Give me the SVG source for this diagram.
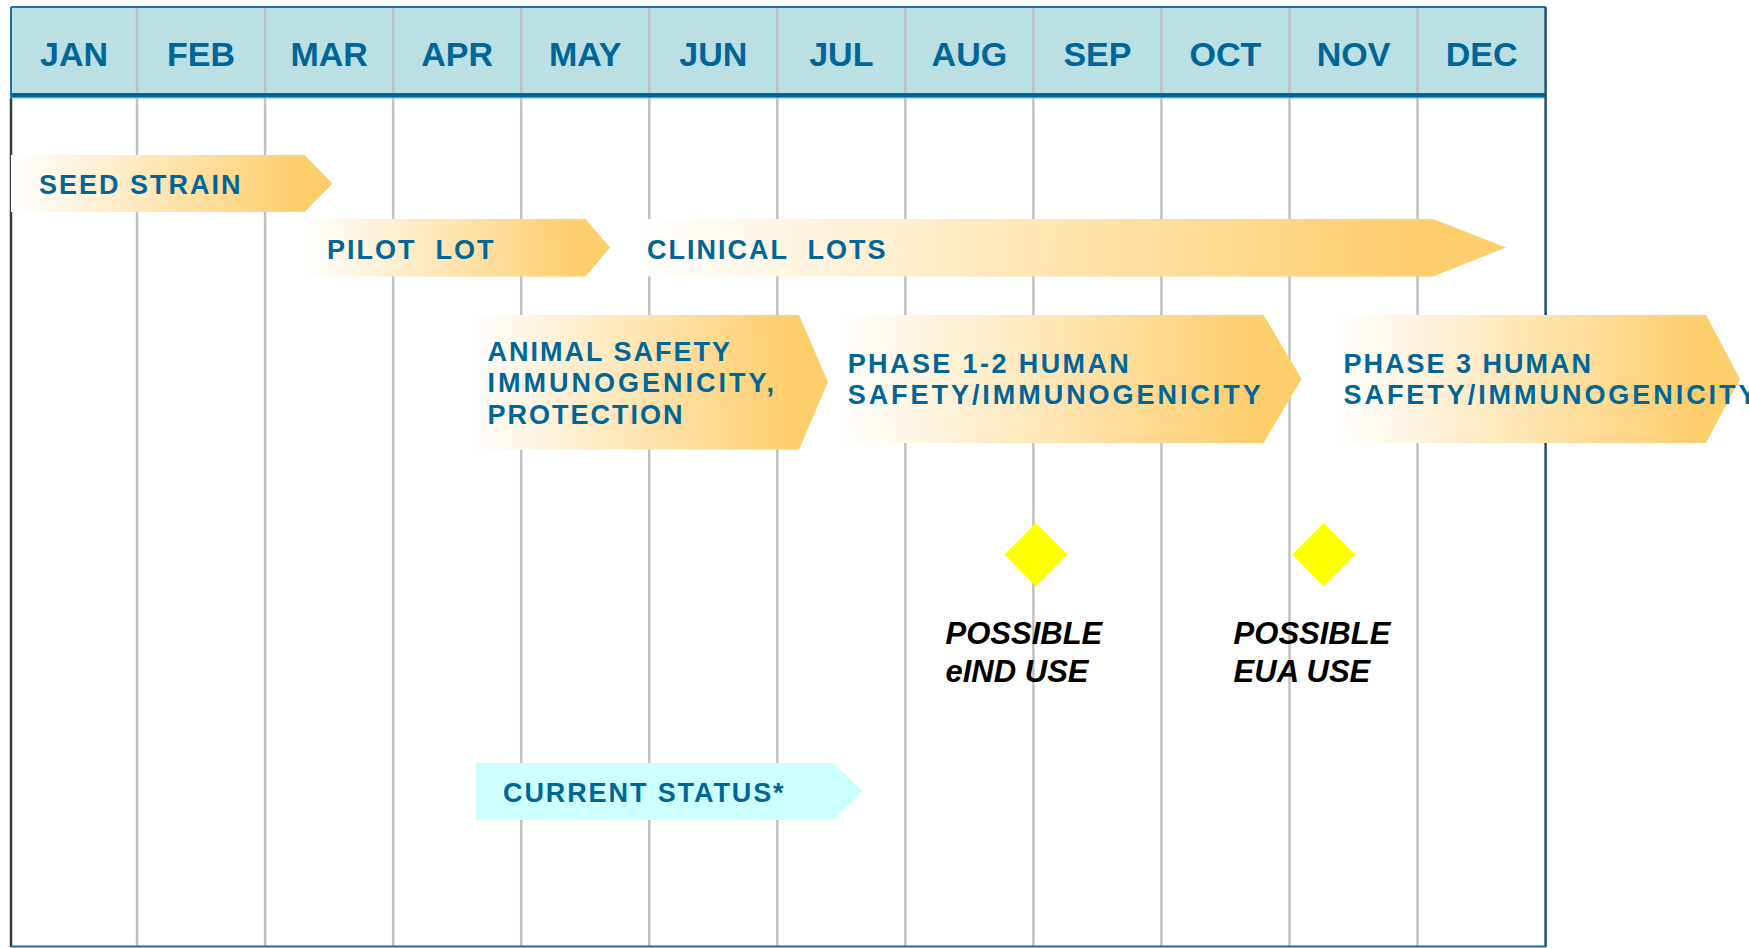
<svg xmlns="http://www.w3.org/2000/svg" width="1749" height="948" viewBox="0 0 1749 948">
<style>
.month{font-family:"Liberation Sans",Arial,sans-serif;font-weight:bold;font-size:34px;fill:#006699;text-anchor:middle}
.lbl{font-family:"Liberation Sans",Arial,sans-serif;font-weight:bold;font-size:27px;fill:#006699;letter-spacing:2px}
.ms{font-family:"Liberation Sans",Arial,sans-serif;font-weight:bold;font-style:italic;font-size:31px;fill:#000000}
.grid{stroke:#C0C0C0;stroke-width:2.5}
.bar{fill:url(#orange)}
.dia{fill:#FFFF00}
</style>
<defs>
<linearGradient id="orange" x1="0" y1="0" x2="1" y2="0">
<stop offset="0" stop-color="#FFFFFF"/>
<stop offset="0.9" stop-color="#FECD6C"/>
<stop offset="1" stop-color="#FECD6C"/>
</linearGradient>
</defs>
<rect x="0" y="0" width="1749" height="948" fill="#FFFFFF"/>
<g id="frame">
<rect x="11" y="7" width="1534.6" height="92" fill="#BAE0E3"/>
<g class="grid">
<line x1="137.05" y1="7" x2="137.05" y2="947"/>
<line x1="265.1" y1="7" x2="265.1" y2="947"/>
<line x1="393.15" y1="7" x2="393.15" y2="947"/>
<line x1="521.2" y1="7" x2="521.2" y2="947"/>
<line x1="649.25" y1="7" x2="649.25" y2="947"/>
<line x1="777.3" y1="7" x2="777.3" y2="947"/>
<line x1="905.35" y1="7" x2="905.35" y2="947"/>
<line x1="1033.4" y1="7" x2="1033.4" y2="947"/>
<line x1="1161.45" y1="7" x2="1161.45" y2="947"/>
<line x1="1289.5" y1="7" x2="1289.5" y2="947"/>
<line x1="1417.55" y1="7" x2="1417.55" y2="947"/>
</g>
<line x1="11" y1="7" x2="1545.6" y2="7" stroke="#1A70A8" stroke-width="2"/>
<line x1="11" y1="95.3" x2="1545.6" y2="95.3" stroke="#006699" stroke-width="4.5"/>
<line x1="11" y1="7" x2="11" y2="99" stroke="#1A70A8" stroke-width="2"/>
<line x1="11" y1="99" x2="11" y2="947" stroke="#3A3A3A" stroke-width="2.5"/>
<line x1="1545.6" y1="7" x2="1545.6" y2="947" stroke="#1F4F70" stroke-width="2.5"/>
<line x1="11" y1="946.5" x2="1545.6" y2="946.5" stroke="#1A6A9A" stroke-width="2"/>
<text class="month" x="74" y="66">JAN</text>
<text class="month" x="201.1" y="66">FEB</text>
<text class="month" x="329.1" y="66">MAR</text>
<text class="month" x="457.2" y="66">APR</text>
<text class="month" x="585.2" y="66">MAY</text>
<text class="month" x="713.3" y="66">JUN</text>
<text class="month" x="841.3" y="66">JUL</text>
<text class="month" x="969.4" y="66">AUG</text>
<text class="month" x="1097.4" y="66">SEP</text>
<text class="month" x="1225.5" y="66">OCT</text>
<text class="month" x="1353.5" y="66">NOV</text>
<text class="month" x="1481.6" y="66">DEC</text>
</g>
<g id="seed-strain">
<polygon class="bar" points="11,155 304.5,155 332.5,183.5 304.5,212 11,212"/>
<text class="lbl" x="39" y="194">SEED STRAIN</text>
</g>
<g id="pilot-lot">
<polygon class="bar" points="303,219 585.5,219 610,247.5 585.5,276.5 303,276.5"/>
<text class="lbl" x="327" y="258.5" xml:space="preserve">PILOT  LOT</text>
</g>
<g id="clinical-lots">
<polygon class="bar" points="636,219 1433,219 1506,247.5 1433,276.5 636,276.5"/>
<text class="lbl" x="647" y="258.5" xml:space="preserve">CLINICAL  LOTS</text>
</g>
<g id="animal-safety">
<polygon class="bar" points="468,315 799,315 828,382 799,449.5 468,449.5"/>
<text class="lbl" x="487.5" y="360.5">ANIMAL SAFETY</text>
<text class="lbl" x="487.5" y="392.3" style="letter-spacing:3px">IMMUNOGENICITY,</text>
<text class="lbl" x="487.5" y="424">PROTECTION</text>
</g>
<g id="phase-1-2">
<polygon class="bar" points="838,315 1263.6,315 1301.6,379 1263.6,443 838,443"/>
<text class="lbl" x="847.7" y="372.6" style="letter-spacing:2.4px">PHASE 1-2 HUMAN</text>
<text class="lbl" x="847.7" y="404" style="letter-spacing:2.95px">SAFETY/IMMUNOGENICITY</text>
</g>
<g id="phase-3">
<polygon class="bar" points="1336,315 1706,315 1740,379 1706,443 1336,443"/>
<text class="lbl" x="1343.5" y="372.6">PHASE 3 HUMAN</text>
<text class="lbl" x="1343.5" y="404" style="letter-spacing:2.95px">SAFETY/IMMUNOGENICITY</text>
</g>
<g id="eind-milestone">
<polygon class="dia" points="1036,523 1067.5,554.5 1036,586.5 1004.5,554.5"/>
<text class="ms" x="945.5" y="644">POSSIBLE</text>
<text class="ms" x="945.5" y="681.5">eIND USE</text>
</g>
<g id="eua-milestone">
<polygon class="dia" points="1323.7,523 1355.2,554.5 1323.7,586.5 1292.2,554.5"/>
<text class="ms" x="1233.6" y="644">POSSIBLE</text>
<text class="ms" x="1233.6" y="681.5">EUA USE</text>
</g>
<g id="current-status">
<polygon fill="#CCFFFF" points="476,763 833,763 862.5,791.5 833,820 476,820"/>
<text class="lbl" x="503" y="802" style="letter-spacing:1.9px">CURRENT STATUS*</text>
</g>
<g id="connectors"/>
</svg>
